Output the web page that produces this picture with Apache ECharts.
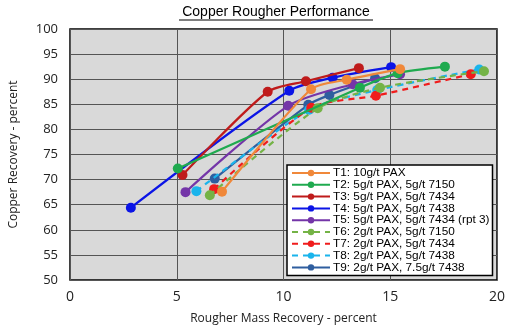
<!DOCTYPE html>
<html><head><meta charset="utf-8">
<script src="https://cdn.jsdelivr.net/npm/echarts@6/dist/echarts.min.js"></script>
<style>html,body{margin:0;padding:0;background:#fff}#c{width:519px;height:327px}</style>
</head><body><div id="c"></div>
<script>
const names = [
  'T1: 10g/t PAX',
  'T2: 5g/t PAX, 5g/t 7150',
  'T3: 5g/t PAX, 5g/t 7434',
  'T4: 5g/t PAX, 5g/t 7438',
  'T5: 5g/t PAX, 5g/t 7434 (rpt 3)',
  'T6: 2g/t PAX, 5g/t 7150',
  'T7: 2g/t PAX, 5g/t 7434',
  'T8: 2g/t PAX, 5g/t 7438',
  'T9: 2g/t PAX, 7.5g/t 7438'
];
const T1 = [[7.12,67.6],[11.29,88.0],[12.96,89.9],[15.46,92.0]];
const T2 = [[5.05,72.2],[13.58,88.3],[15.35,91.2],[17.56,92.5]];
const T3 = [[5.27,70.9],[9.26,87.5],[11.05,89.6],[13.53,92.2]];
const T4 = [[2.85,64.4],[10.27,87.7],[12.3,90.3],[15.04,92.4]];
const T5 = [[5.41,67.5],[10.22,84.7],[13.24,89.0],[15.46,91.0]];
const T6 = [[6.55,66.9],[11.6,84.2],[14.52,88.3],[19.39,91.6]];
const T7 = [[6.75,68.1],[11.3,84.3],[14.33,86.7],[18.77,91.0]];
const T8 = [[5.92,67.7],[11.2,83.9],[14.39,87.85],[19.17,91.95]];
const T9 = [[6.78,70.2],[11.16,84.9],[12.15,86.85],[14.29,90.2]];
const xTicks = [0,5,10,15,20];
const yTicks = [50,55,60,65,70,75,80,85,90,95,100];

const datasets = [T1,T2,T3,T4,T5,T6,T7,T8,T9];
const colors = ['#f0883a','#1faa4f','#bf1b1b','#0b14e6','#7435a8','#74b346','#f01c1c','#1ab4ec','#2f5e9f'];
const dashed = [false,false,false,false,false,true,true,true,false];

const chart = echarts.init(document.getElementById('c'), null, {renderer:'canvas'});
chart.setOption({
  animation:false,
  backgroundColor:'#fff',
  graphic:[
    {type:'text', x:276, y:5, style:{text:'Copper Rougher Performance', align:'center', font:'14px "Liberation Sans", Arial', fill:'#000'}},
    {type:'line', shape:{x1:179,y1:20,x2:373,y2:20}, style:{stroke:'#000', lineWidth:1}}
  ],
  grid:{left:70,right:22,top:29,bottom:47,outerBoundsMode:'none',containLabel:false,show:true,backgroundColor:'#d9d9d9',borderColor:'#000',borderWidth:1.5},
  legend:{
    orient:'vertical', left:287, top:165,
    backgroundColor:'#fff', borderColor:'#000', borderWidth:1.5,
    padding:[2,3,2,4], itemWidth:38, itemHeight:8, itemGap:-0.2,
    textStyle:{fontFamily:'"Liberation Sans", Arial', fontSize:11.8, color:'#000', padding:[0,0,0,-2]},
    data:names
  },
  xAxis:{
    type:'value', min:xTicks[0], max:xTicks[xTicks.length-1], interval:5,
    name:'Rougher Mass Recovery - percent', nameLocation:'middle', nameGap:33,
    nameTextStyle:{fontFamily:'"Open Sans"', fontSize:12, color:'#222'},
    axisLine:{show:false}, axisTick:{show:false},
    axisLabel:{fontFamily:'"Open Sans"', fontSize:14, color:'#222', margin:10},
    splitLine:{lineStyle:{color:'#555',width:1}}
  },
  yAxis:{
    type:'value', min:yTicks[0], max:yTicks[yTicks.length-1], interval:5,
    name:'Copper Recovery - percent', nameLocation:'middle', nameGap:50,
    nameTextStyle:{fontFamily:'"Open Sans"', fontSize:12, color:'#222'},
    axisLine:{show:false}, axisTick:{show:false},
    axisLabel:{fontFamily:'"Open Sans"', fontSize:13, color:'#222', margin:12},
    splitLine:{lineStyle:{color:'#555',width:1}}
  },
  series: datasets.map((d,i)=>({
    name:names[i], type:'line', data:d, smooth:0.25,
    symbol:'circle', symbolSize:10,
    color:colors[i],
    lineStyle:{color:colors[i], width:2.2, type: dashed[i] ? [6,5] : 'solid'},
    itemStyle:{color:colors[i]},
    z: 10-i
  }))
});
</script></body></html>
